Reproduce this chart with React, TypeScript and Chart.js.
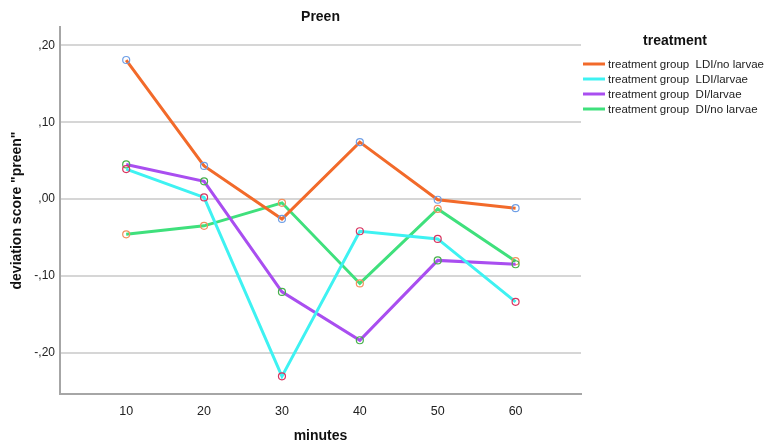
import { useEffect, useRef } from 'react';
import { Chart, registerables } from 'chart.js';

Chart.register(...registerables);

// Sampling times (minutes) and mean deviation scores per treatment group
const minutes = [10, 20, 30, 40, 50, 60];
const ldiNoLarvae = [0.181, 0.043, -0.026, 0.074, -0.001, -0.012];
const ldiLarvae = [0.039, 0.002, -0.231, -0.042, -0.052, -0.134];
const diLarvae = [0.045, 0.023, -0.121, -0.184, -0.080, -0.085];
const diNoLarvae = [-0.046, -0.035, -0.005, -0.110, -0.013, -0.081];

const groupLabels = [
  'treatment group  LDI/no larvae',
  'treatment group  LDI/larvae',
  'treatment group  DI/larvae',
  'treatment group  DI/no larvae',
];
const groupValues = [ldiNoLarvae, ldiLarvae, diLarvae, diNoLarvae];
const lineColors = ['#f26a2a', '#3ef2f2', '#a94ef0', '#3fe07c'];
const markerColors = ['#6f9fe6', '#d8335f', '#45b04a', '#f2905e'];

const FONT = '"Liberation Sans", Arial, Helvetica, sans-serif';

// ",20" / "-,10" style decimal labels
const fmtTick = (v: number) => {
  const s = Math.abs(v).toFixed(2).replace(/^0/, '').replace('.', ',');
  return (v < -1e-9 ? '-' : '') + s;
};

const treatmentLegend = {
  id: 'treatmentLegend',
  afterDraw(chart: any) {
    const { ctx, chartArea } = chart;
    const left = chartArea.right + 2;
    ctx.save();
    ctx.fillStyle = '#111';
    ctx.font = `bold 14px ${FONT}`;
    ctx.textAlign = 'center';
    ctx.textBaseline = 'middle';
    ctx.fillText('treatment', left + 92, 41);
    ctx.font = `11.5px ${FONT}`;
    ctx.textAlign = 'left';
    chart.data.datasets.forEach((ds: any, i: number) => {
      const y = 64 + i * 15;
      ctx.strokeStyle = ds.borderColor;
      ctx.lineWidth = 3;
      ctx.beginPath();
      ctx.moveTo(left, y);
      ctx.lineTo(left + 22, y);
      ctx.stroke();
      ctx.fillStyle = '#222';
      ctx.fillText(ds.label, left + 25, y + 0.5);
    });
    ctx.restore();
  },
};

export default function App() {
  const canvasRef = useRef<HTMLCanvasElement>(null);

  useEffect(() => {
    if (!canvasRef.current) return;
    const chart = new Chart(canvasRef.current, {
      type: 'line',
      data: {
        datasets: groupValues.map((vals, i) => ({
          label: groupLabels[i],
          data: minutes.map((m, j) => ({ x: m, y: vals[j] })),
          borderColor: lineColors[i],
          backgroundColor: lineColors[i],
          borderWidth: 3,
          pointRadius: 3.5,
          pointBorderWidth: 1.2,
          pointBorderColor: markerColors[i],
          pointBackgroundColor: 'rgba(0,0,0,0)',
          tension: 0,
          fill: false,
        })),
      },
      options: {
        animation: false,
        responsive: false,
        devicePixelRatio: 1,
        layout: { padding: { left: 0, right: 188, top: 0, bottom: 0 } },
        plugins: {
          legend: { display: false },
          tooltip: { enabled: false },
          title: {
            display: true,
            text: 'Preen',
            fullSize: false,
            color: '#111',
            font: { family: FONT, size: 14, weight: 'bold' },
            padding: { top: 9, bottom: 1.2 },
          },
        },
        scales: {
          x: {
            type: 'linear',
            min: 1.5,
            max: 68.4,
            afterFit: (s: any) => { s.height = 52; },
            grid: { display: false, drawTicks: false },
            border: { display: true, color: '#a6a6a6', width: 2 },
            ticks: {
              stepSize: 10,
              includeBounds: false,
              padding: 10,
              color: '#222',
              font: { family: FONT, size: 12.5 },
            },
            title: {
              display: true,
              text: 'minutes',
              color: '#111',
              font: { family: FONT, size: 14, weight: 'bold' },
              padding: { top: 0, bottom: 1 },
            },
          },
          y: {
            type: 'linear',
            min: -0.254,
            max: 0.224,
            afterFit: (s: any) => { s.width = 60; },
            grid: { color: '#d6d6d6', lineWidth: 2, drawTicks: false },
            border: { display: true, color: '#a6a6a6', width: 2 },
            ticks: {
              stepSize: 0.1,
              includeBounds: false,
              padding: 5,
              color: '#222',
              font: { family: FONT, size: 12 },
              callback: (v: any) => fmtTick(Number(v)),
            },
            title: {
              display: true,
              text: 'deviation score "preen"',
              color: '#111',
              font: { family: FONT, size: 14, weight: 'bold' },
              padding: { top: 9, bottom: 0 },
            },
          },
        },
      },
      plugins: [treatmentLegend],
    });
    return () => chart.destroy();
  }, []);

  return (
    <div style={{ position: 'fixed', left: 0, top: 0, width: 769, height: 446, background: '#fff' }}>
      <canvas ref={canvasRef} width={769} height={446} />
    </div>
  );
}
